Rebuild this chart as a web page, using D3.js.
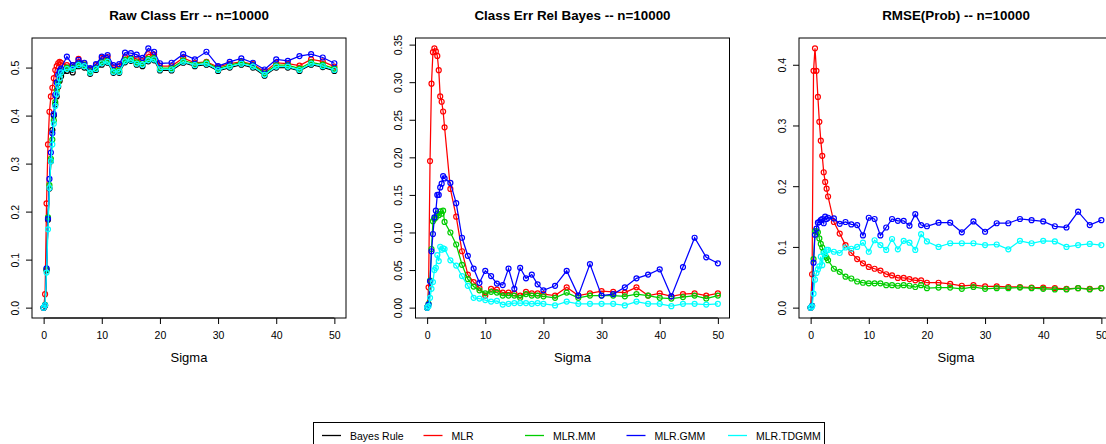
<!DOCTYPE html>
<html>
<head>
<meta charset="utf-8">
<script src="https://cdn.jsdelivr.net/npm/d3@7"></script>
<style>
  html, body { margin: 0; padding: 0; background: #fff; }
  svg { display: block; font-family: "Liberation Sans", Arial, Helvetica, sans-serif; }
</style>
</head>
<body>
<div id="chart"></div>
<script>
/* ------------------------------------------------------------
   Data
------------------------------------------------------------ */
var SIGMA = [0, 0.25, 0.5, 0.75, 1, 1.25, 1.5, 1.75, 2, 2.25, 2.5, 2.75, 3,
  4, 5, 6, 7, 8, 9, 10, 11, 12, 13, 14, 15, 16, 17, 18, 19, 20,
  22, 24, 26, 28, 30, 32, 34, 36, 38, 40, 42, 44, 46, 48, 50];

var METHODS = ['Bayes Rule', 'MLR', 'MLR.MM', 'MLR.GMM', 'MLR.TDGMM'];
var COLORS  = ['#000000', '#ff0000', '#00cd00', '#0000ff', '#00ffff'];

/* Raw class error */
var RAW_BAYES = [0, 0.004, 0.078, 0.183, 0.248, 0.305, 0.370, 0.400, 0.423, 0.440, 0.460, 0.472, 0.482,
  0.493, 0.490, 0.503, 0.500, 0.487, 0.495, 0.506, 0.510, 0.489, 0.489, 0.511, 0.514, 0.506, 0.503, 0.513, 0.515, 0.494,
  0.494, 0.510, 0.503, 0.506, 0.493, 0.500, 0.506, 0.500, 0.483, 0.500, 0.500, 0.493, 0.506, 0.501, 0.493];
var RAW_MLR = [0, 0.028, 0.217, 0.340, 0.408, 0.440, 0.458, 0.478, 0.495, 0.503, 0.509, 0.512, 0.510,
  0.505, 0.505, 0.518, 0.509, 0.497, 0.505, 0.520, 0.522, 0.500, 0.503, 0.522, 0.520, 0.518, 0.515, 0.528, 0.527, 0.503,
  0.503, 0.520, 0.510, 0.512, 0.501, 0.508, 0.512, 0.507, 0.491, 0.510, 0.508, 0.504, 0.517, 0.513, 0.502];
var RAW_MM = [0, 0.006, 0.080, 0.188, 0.255, 0.310, 0.350, 0.390, 0.428, 0.452, 0.470, 0.485, 0.495,
  0.500, 0.500, 0.508, 0.506, 0.492, 0.500, 0.512, 0.515, 0.494, 0.494, 0.516, 0.519, 0.511, 0.509, 0.518, 0.520, 0.499,
  0.499, 0.515, 0.508, 0.511, 0.498, 0.505, 0.511, 0.505, 0.488, 0.505, 0.505, 0.498, 0.511, 0.506, 0.498];
var RAW_GMM = [0, 0.005, 0.082, 0.185, 0.268, 0.323, 0.363, 0.403, 0.443, 0.469, 0.485, 0.493, 0.498,
  0.523, 0.505, 0.516, 0.510, 0.499, 0.507, 0.523, 0.526, 0.505, 0.507, 0.531, 0.530, 0.527, 0.520, 0.540, 0.533, 0.509,
  0.510, 0.528, 0.517, 0.533, 0.503, 0.512, 0.519, 0.510, 0.496, 0.517, 0.514, 0.524, 0.528, 0.521, 0.509];
var RAW_TDGMM = [0, 0.005, 0.073, 0.163, 0.249, 0.305, 0.340, 0.383, 0.420, 0.445, 0.462, 0.478, 0.490,
  0.497, 0.497, 0.505, 0.503, 0.489, 0.497, 0.509, 0.512, 0.491, 0.491, 0.513, 0.516, 0.508, 0.506, 0.515, 0.517, 0.496,
  0.496, 0.512, 0.505, 0.508, 0.495, 0.502, 0.508, 0.502, 0.485, 0.502, 0.502, 0.495, 0.508, 0.503, 0.495];

/* Class error relative to Bayes */
var REL_MLR = [0, 0.027, 0.195, 0.298, 0.340, 0.345, 0.341, 0.335, 0.316, 0.281, 0.274, 0.261, 0.240,
  0.158, 0.121, 0.075, 0.044, 0.034, 0.026, 0.016, 0.025, 0.024, 0.020, 0.020, 0.019, 0.016, 0.021, 0.019, 0.019, 0.018,
  0.016, 0.027, 0.016, 0.019, 0.022, 0.021, 0.020, 0.027, 0.016, 0.019, 0.015, 0.018, 0.019, 0.016, 0.019];
var REL_MM = [0, 0.005, 0.036, 0.078, 0.115, 0.118, 0.120, 0.125, 0.123, 0.128, 0.125, 0.129, 0.114,
  0.100, 0.084, 0.057, 0.038, 0.028, 0.023, 0.019, 0.021, 0.020, 0.016, 0.016, 0.016, 0.013, 0.018, 0.016, 0.016, 0.015,
  0.013, 0.020, 0.013, 0.016, 0.016, 0.016, 0.015, 0.018, 0.016, 0.013, 0.012, 0.014, 0.016, 0.012, 0.016];
var REL_GMM = [0, 0.004, 0.035, 0.075, 0.098, 0.120, 0.129, 0.150, 0.150, 0.160, 0.165, 0.175, 0.172,
  0.166, 0.139, 0.093, 0.069, 0.052, 0.033, 0.049, 0.042, 0.032, 0.030, 0.052, 0.025, 0.053, 0.039, 0.044, 0.031, 0.023,
  0.029, 0.049, 0.016, 0.058, 0.016, 0.018, 0.027, 0.039, 0.044, 0.051, 0.015, 0.054, 0.093, 0.067, 0.059];
var REL_TDGMM = [0, 0.002, 0.013, 0.025, 0.034, 0.050, 0.053, 0.070, 0.062, 0.081, 0.077, 0.079, 0.078,
  0.063, 0.056, 0.042, 0.029, 0.013, 0.012, 0.010, 0.008, 0.009, 0.004, 0.005, 0.006, 0.006, 0.006, 0.005, 0.006, 0.005,
  0.003, 0.008, 0.005, 0.005, 0.005, 0.005, 0.003, 0.008, 0.005, 0.005, 0.002, 0.005, 0.005, 0.004, 0.005];

/* RMSE of the probabilities */
var RMSE_MLR = [0, 0.055, 0.390, 0.427, 0.390, 0.347, 0.306, 0.275, 0.250, 0.223, 0.207, 0.196, 0.183,
  0.141, 0.122, 0.103, 0.090, 0.080, 0.073, 0.067, 0.064, 0.061, 0.055, 0.053, 0.049, 0.049, 0.047, 0.045, 0.045, 0.041,
  0.041, 0.039, 0.036, 0.037, 0.035, 0.035, 0.034, 0.034, 0.033, 0.033, 0.032, 0.031, 0.032, 0.031, 0.032];
var RMSE_MM = [0, 0.003, 0.080, 0.126, 0.126, 0.124, 0.114, 0.105, 0.099, 0.092, 0.086, 0.082, 0.078,
  0.064, 0.059, 0.051, 0.048, 0.043, 0.041, 0.040, 0.040, 0.040, 0.037, 0.037, 0.036, 0.037, 0.036, 0.034, 0.037, 0.032,
  0.033, 0.033, 0.031, 0.034, 0.031, 0.032, 0.032, 0.033, 0.032, 0.031, 0.030, 0.030, 0.032, 0.030, 0.032];
var RMSE_GMM = [0, 0.003, 0.074, 0.120, 0.130, 0.140, 0.141, 0.144, 0.146, 0.139, 0.150, 0.146, 0.148,
  0.147, 0.138, 0.141, 0.137, 0.136, 0.119, 0.148, 0.146, 0.119, 0.132, 0.146, 0.143, 0.143, 0.135, 0.154, 0.136, 0.134,
  0.140, 0.140, 0.124, 0.142, 0.125, 0.139, 0.139, 0.146, 0.144, 0.142, 0.134, 0.132, 0.158, 0.136, 0.144];
var RMSE_TDGMM = [0, 0.002, 0.023, 0.046, 0.057, 0.063, 0.068, 0.084, 0.070, 0.090, 0.088, 0.095, 0.095,
  0.092, 0.090, 0.099, 0.097, 0.100, 0.107, 0.092, 0.111, 0.103, 0.095, 0.113, 0.096, 0.110, 0.107, 0.095, 0.121, 0.109,
  0.100, 0.106, 0.106, 0.106, 0.103, 0.104, 0.096, 0.110, 0.106, 0.110, 0.109, 0.100, 0.103, 0.105, 0.103];

var X_TICKS      = [0, 10, 20, 30, 40, 50];
var Y_TICKS_RAW  = [0, 0.1, 0.2, 0.3, 0.4, 0.5];
var Y_TICKS_REL  = [0, 0.05, 0.10, 0.15, 0.20, 0.25, 0.30, 0.35];
var Y_TICKS_RMSE = [0, 0.1, 0.2, 0.3, 0.4];

var TITLES = ['Raw Class Err -- n=10000', 'Class Err Rel Bayes -- n=10000', 'RMSE(Prob) -- n=10000'];
var X_LABEL = 'Sigma';

(function () {
  'use strict';

  var W = 1106, H = 444;
  var BOX_W = 314, TOP = 38, BOTTOM = 318;
  var LEFTS = [32, 415.5, 799];

  /* series index refers to METHODS / COLORS */
  var PANELS = [
    { title: TITLES[0], ticks: Y_TICKS_RAW, fmt: '.1f',
      series: [[0, RAW_BAYES], [1, RAW_MLR], [2, RAW_MM], [3, RAW_GMM], [4, RAW_TDGMM]] },
    { title: TITLES[1], ticks: Y_TICKS_REL, fmt: '.2f',
      series: [[1, REL_MLR], [2, REL_MM], [3, REL_GMM], [4, REL_TDGMM]] },
    { title: TITLES[2], ticks: Y_TICKS_RMSE, fmt: '.1f',
      series: [[1, RMSE_MLR], [2, RMSE_MM], [3, RMSE_GMM], [4, RMSE_TDGMM]] }
  ];

  var svg = d3.select('#chart').append('svg')
    .attr('width', W).attr('height', H)
    .attr('viewBox', '0 0 ' + W + ' ' + H);

  // R style: data range stretched 4% on each side
  function padded(lo, hi) {
    var d = (hi - lo) * 0.04;
    return [lo - d, hi + d];
  }

  var xDom = padded(d3.min(SIGMA), d3.max(SIGMA));

  /* -----------------------------------------------------------
     Panels
  ----------------------------------------------------------- */
  PANELS.forEach(function (p, i) {
    var left = LEFTS[i];
    var x = d3.scaleLinear().domain(xDom).range([left, left + BOX_W]);
    var all = [];
    p.series.forEach(function (s) { all = all.concat(s[1]); });
    var y = d3.scaleLinear().domain(padded(d3.min(all), d3.max(all))).range([BOTTOM, TOP]);

    var g = svg.append('g');

    // title
    g.append('text')
      .attr('x', left + BOX_W / 2).attr('y', 20)
      .attr('text-anchor', 'middle')
      .attr('font-size', '13.4px').attr('font-weight', 'bold')
      .text(p.title);

    // x axis
    var xa = g.append('g')
      .attr('transform', 'translate(0,' + BOTTOM + ')')
      .call(d3.axisBottom(x).tickValues(X_TICKS).tickSize(6).tickSizeOuter(0)
        .tickFormat(d3.format('d')));
    xa.select('.domain').remove();
    xa.selectAll('line').attr('stroke', '#000');
    xa.selectAll('text').attr('y', 14).attr('font-size', '10.5px')
      .attr('fill', '#000').attr('font-family', null);
    g.append('line')
      .attr('x1', x(X_TICKS[0])).attr('x2', x(X_TICKS[X_TICKS.length - 1]))
      .attr('y1', BOTTOM).attr('y2', BOTTOM).attr('stroke', '#000');

    // y axis, labels parallel to the axis
    var ya = g.append('g')
      .attr('transform', 'translate(' + left + ',0)')
      .call(d3.axisLeft(y).tickValues(p.ticks).tickSize(6).tickSizeOuter(0)
        .tickFormat(d3.format(p.fmt)));
    ya.select('.domain').remove();
    ya.selectAll('line').attr('stroke', '#000');
    ya.selectAll('text')
      .attr('x', null).attr('dy', null)
      .attr('transform', 'translate(-13.5,0) rotate(-90)')
      .attr('text-anchor', 'middle')
      .attr('font-size', '10.5px').attr('fill', '#000').attr('font-family', null);

    // x label
    g.append('text')
      .attr('x', left + BOX_W / 2).attr('y', 361.5)
      .attr('text-anchor', 'middle').attr('font-size', '13px')
      .text(X_LABEL);

    // series: line + open circles
    var line = d3.line()
      .x(function (d, k) { return x(SIGMA[k]); })
      .y(function (d) { return y(d); });

    p.series.forEach(function (s) {
      var col = COLORS[s[0]];
      g.append('path')
        .datum(s[1])
        .attr('d', line)
        .attr('fill', 'none')
        .attr('stroke', col)
        .attr('stroke-width', 1.25);
      g.selectAll(null)
        .data(s[1])
        .join('circle')
        .attr('cx', function (d, k) { return x(SIGMA[k]); })
        .attr('cy', function (d) { return y(d); })
        .attr('r', 2.5)
        .attr('fill', 'none')
        .attr('stroke', col)
        .attr('stroke-width', 1.2);
    });

    // box
    g.append('rect')
      .attr('x', left).attr('y', TOP)
      .attr('width', BOX_W).attr('height', BOTTOM - TOP)
      .attr('fill', 'none').attr('stroke', '#000').attr('stroke-width', 1);
  });

  /* -----------------------------------------------------------
     Legend
  ----------------------------------------------------------- */
  var lg = svg.append('g');
  lg.append('rect')
    .attr('x', 313.5).attr('y', 422.5)
    .attr('width', 511).attr('height', 40)
    .attr('fill', 'none').attr('stroke', '#000');

  var STEP = 101.5;
  METHODS.forEach(function (m, i) {
    var x0 = 322 + i * STEP;
    lg.append('line')
      .attr('x1', x0).attr('x2', x0 + 19)
      .attr('y1', 435.5).attr('y2', 435.5)
      .attr('stroke', COLORS[i]).attr('stroke-width', 1.3);
    lg.append('text')
      .attr('x', 350 + i * STEP).attr('y', 439.5)
      .attr('font-size', '10.5px')
      .text(m);
  });
})();
</script>
</body>
</html>
